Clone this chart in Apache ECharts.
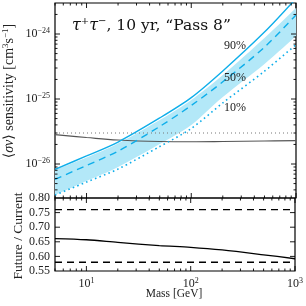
<!DOCTYPE html>
<html><head><meta charset="utf-8">
<script src="https://cdn.jsdelivr.net/npm/echarts@6/dist/echarts.min.js"></script>
<style>html,body{margin:0;padding:0;background:#fff}#c{width:306px;height:306px}</style>
</head><body><div id="c"></div><script>
// ---- data ----
const mass = [5, 10, 20, 50, 100, 200, 500, 1000];
const sens90 = [8.30e-27, 1.33e-26, 2.18e-26, 5.11e-26, 1.05e-25, 2.70e-25, 1.07e-24, 3.52e-24];
const sens50 = [5.82e-27, 9.5e-27, 1.58e-26, 3.78e-26, 7.94e-26, 1.84e-25, 6.27e-25, 1.96e-24];
const sens10 = [3.33e-27, 5.28e-27, 8.38e-27, 1.86e-26, 3.52e-26, 8.71e-26, 2.68e-25, 6.87e-25];
const bandUpper = [8.09e-27, 1.26e-26, 2.07e-26, 4.75e-26, 9.66e-26, 2.34e-25, 8.69e-25, 2.51e-24];
const bandLower = [3.33e-27, 5.48e-27, 9.0e-27, 2.03e-26, 3.98e-26, 1.07e-25, 3.46e-25, 9.31e-25];
const current = [2.84e-26, 2.56e-26, 2.34e-26, 2.22e-26, 2.20e-26, 2.22e-26, 2.26e-26, 2.29e-26];
const thermal = [3e-26, 3e-26];
const thermalMass = [5, 1000];
const ratio = [0.661, 0.657, 0.648, 0.637, 0.631, 0.622, 0.6055, 0.592];
const ratioUpper = [0.76, 0.76];
const ratioLower = [0.58, 0.58];
const xMajorTicks = [10, 100, 1000];
const xMinorTicks = [5, 6, 7, 8, 9, 20, 30, 40, 50, 60, 70, 80, 90, 200, 300, 400, 500, 600, 700, 800, 900];
const yMajorTicks = [1e-26, 1e-25, 1e-24];
const yMinorTicks = [4e-27, 5e-27, 6e-27, 7e-27, 8e-27, 9e-27, 2e-26, 3e-26, 4e-26, 5e-26, 6e-26, 7e-26, 8e-26, 9e-26,
  2e-25, 3e-25, 4e-25, 5e-25, 6e-25, 7e-25, 8e-25, 9e-25, 2e-24];
const ratioTicks = [0.60, 0.65, 0.70, 0.75];
const pctLabels = ['90%', '50%', '10%'];

// ---- styling ----
const FONT = '"Liberation Serif", "DejaVu Serif", serif';
const BLUE = '#0eaeea';
const BAND = '#b3e8f8';

const pairs = (xs, ys) => xs.map((x, i) => [x, ys[i]]);

function tickItems(xMaj, xMin, yMaj, yMin, xRef, yRef) {
  const out = [];
  xMaj.forEach(v => out.push([v, yRef, 0]));
  xMin.forEach(v => out.push([v, yRef, 1]));
  yMaj.forEach(v => out.push([xRef, v, 2]));
  yMin.forEach(v => out.push([xRef, v, 3]));
  return out;
}
function renderTicks(params, api) {
  const cs = params.coordSys;
  const kind = api.value(2);
  const p = api.coord([api.value(0), api.value(1)]);
  const len = (kind % 2 === 0) ? 5 : 2.5;
  const st = { stroke: '#000', lineWidth: 0.9 };
  if (kind < 2) {
    const b = cs.y + cs.height, t = cs.y;
    return { type: 'group', children: [
      { type: 'line', shape: { x1: p[0], y1: b, x2: p[0], y2: b - len }, style: st },
      { type: 'line', shape: { x1: p[0], y1: t, x2: p[0], y2: t + len }, style: st }
    ] };
  }
  const l = cs.x, r = cs.x + cs.width;
  return { type: 'group', children: [
    { type: 'line', shape: { x1: l, y1: p[1], x2: l + len, y2: p[1] }, style: st },
    { type: 'line', shape: { x1: r, y1: p[1], x2: r - len, y2: p[1] }, style: st }
  ] };
}
// Catmull-Rom path through pixel points (continuing an open path)
function crSegments(pts) {
  let d = '';
  for (let i = 0; i < pts.length - 1; i++) {
    const p0 = pts[Math.max(i - 1, 0)], p1 = pts[i], p2 = pts[i + 1], p3 = pts[Math.min(i + 2, pts.length - 1)];
    const c1 = [p1[0] + (p2[0] - p0[0]) / 6, p1[1] + (p2[1] - p0[1]) / 6];
    const c2 = [p2[0] - (p3[0] - p1[0]) / 6, p2[1] - (p3[1] - p1[1]) / 6];
    d += ' C' + c1[0] + ' ' + c1[1] + ' ' + c2[0] + ' ' + c2[1] + ' ' + p2[0] + ' ' + p2[1];
  }
  return d;
}
function renderBand(params, api) {
  const up = mass.map((m, i) => api.coord([m, bandUpper[i]]));
  const lo = mass.map((m, i) => api.coord([m, bandLower[i]])).reverse();
  const d = 'M' + up[0][0] + ' ' + up[0][1] + crSegments(up) +
            ' L' + lo[0][0] + ' ' + lo[0][1] + crSegments(lo) + ' Z';
  const cs = params.coordSys;
  return { type: 'path', shape: { pathData: d }, style: { fill: BAND, stroke: null },
    clipPath: { type: 'rect', shape: { x: cs.x, y: cs.y, width: cs.width, height: cs.height } } };
}
function isPow10(v) {
  const e = Math.log10(v);
  return Math.abs(e - Math.round(e)) < 1e-6 ? Math.round(e) : null;
}
const supRich = {
  b: { fontFamily: FONT, fontSize: 12, color: '#222' },
  s: { fontFamily: FONT, fontSize: 8, color: '#222', verticalAlign: 'top', padding: [0, 0, 6, 0] }
};

const chart = echarts.init(document.getElementById('c'), null, { renderer: 'canvas' });
chart.setOption({
  animation: false,
  backgroundColor: '#fff',
  grid: [
    { left: 55, top: 3, width: 241, height: 195, show: true, borderColor: '#000', borderWidth: 1.2, backgroundColor: 'transparent' },
    { left: 55, top: 198, width: 241, height: 73, show: true, borderColor: '#000', borderWidth: 1.2, backgroundColor: 'transparent' }
  ],
  xAxis: [
    { type: 'log', gridIndex: 0, min: 5, max: 1000, axisLine: { show: false }, axisTick: { show: false },
      axisLabel: { show: false }, splitLine: { show: false } },
    { type: 'log', gridIndex: 1, min: 5, max: 1000, axisLine: { show: false }, axisTick: { show: false },
      splitLine: { show: false },
      axisLabel: { show: true, margin: 6, showMinLabel: false, rich: supRich,
        formatter: v => { const e = isPow10(v); return e === null ? '' : '{b|10}{s|' + e + '}'; } } }
  ],
  yAxis: [
    { type: 'log', gridIndex: 0, min: 3e-27, max: 3e-24, axisLine: { show: false }, axisTick: { show: false },
      splitLine: { show: false },
      axisLabel: { show: true, margin: 5, rich: supRich, showMinLabel: false, showMaxLabel: false,
        formatter: v => { const e = isPow10(v); return e === null ? '' : '{b|10}{s|' + String(e).replace('-', '−') + '}'; } } },
    { type: 'value', gridIndex: 1, min: 0.55, max: 0.80, interval: 0.05, axisLine: { show: false },
      axisTick: { show: false }, splitLine: { show: false },
      axisLabel: { show: true, margin: 5, fontFamily: FONT, fontSize: 12, color: '#222', formatter: v => v.toFixed(2) } }
  ],
  series: [
    { name: 'band', type: 'custom', xAxisIndex: 0, yAxisIndex: 0, renderItem: renderBand, data: [[mass[0], bandLower[0]]],
      z: 1, silent: true },
    { name: 'thermal', type: 'line', xAxisIndex: 0, yAxisIndex: 0, data: pairs(thermalMass, thermal), symbol: 'none',
      lineStyle: { color: '#777', width: 1, type: [1, 3] }, z: 3 },
    { name: 'current', type: 'line', xAxisIndex: 0, yAxisIndex: 0, data: pairs(mass, current), symbol: 'none', smooth: 0.4,
      lineStyle: { color: '#555', width: 1.2 }, z: 3 },
    { name: '90%', type: 'line', xAxisIndex: 0, yAxisIndex: 0, data: pairs(mass, sens90), symbol: 'none', smooth: 0.3,
      lineStyle: { color: BLUE, width: 1.4 }, z: 4 },
    { name: '50%', type: 'line', xAxisIndex: 0, yAxisIndex: 0, data: pairs(mass, sens50), symbol: 'none', smooth: 0.3,
      lineStyle: { color: BLUE, width: 1.4, type: [7, 5] }, z: 4 },
    { name: '10%', type: 'line', xAxisIndex: 0, yAxisIndex: 0, data: pairs(mass, sens10), symbol: 'none', smooth: 0.3,
      lineStyle: { color: BLUE, width: 1.6, type: [1.6, 3.2] }, z: 4 },
    { name: 'ratio', type: 'line', xAxisIndex: 1, yAxisIndex: 1, data: pairs(mass, ratio), symbol: 'none', smooth: 0.3,
      lineStyle: { color: '#000', width: 1.3 }, z: 4 },
    { name: 'ratioUp', type: 'line', xAxisIndex: 1, yAxisIndex: 1, data: pairs(thermalMass, ratioUpper), symbol: 'none',
      lineStyle: { color: '#000', width: 1.3, type: [7, 5] }, z: 4 },
    { name: 'ratioLow', type: 'line', xAxisIndex: 1, yAxisIndex: 1, data: pairs(thermalMass, ratioLower), symbol: 'none',
      lineStyle: { color: '#000', width: 1.3, type: [7, 5] }, z: 4 },
    { name: 'ticksTop', type: 'custom', xAxisIndex: 0, yAxisIndex: 0, renderItem: renderTicks, z: 5, silent: true,
      data: tickItems(xMajorTicks, xMinorTicks, yMajorTicks, yMinorTicks, 10, 1e-26) },
    { name: 'ticksBottom', type: 'custom', xAxisIndex: 1, yAxisIndex: 1, renderItem: renderTicks, z: 5, silent: true,
      data: tickItems(xMajorTicks, xMinorTicks, ratioTicks, [], 10, 0.65) }
  ],
  graphic: [
    { type: 'text', x: 72, y: 26, z: 10, style: {
      text: '{i|τ}{s|+}{i|τ}{s|−}{n|, 10 yr, “Pass 8”}', verticalAlign: 'middle', align: 'left',
      rich: { i: { fontFamily: '"DejaVu Serif", serif', fontSize: 16, fontStyle: 'italic', fill: '#111' },
              n: { fontFamily: '"DejaVu Serif", serif', fontSize: 15.5, fill: '#111' },
              s: { fontFamily: '"DejaVu Serif", serif', fontSize: 10, fill: '#111', verticalAlign: 'top', padding: [0, 0, 9, 0] } } } },
    { type: 'text', x: 235, y: 46, z: 10, style: { text: pctLabels[0], font: '12px ' + FONT, fill: '#222', align: 'center', verticalAlign: 'middle' } },
    { type: 'text', x: 235, y: 78, z: 10, style: { text: pctLabels[1], font: '12px ' + FONT, fill: '#222', align: 'center', verticalAlign: 'middle' } },
    { type: 'text', x: 235, y: 108, z: 10, style: { text: pctLabels[2], font: '12px ' + FONT, fill: '#222', align: 'center', verticalAlign: 'middle' } },
    { type: 'text', x: 9, y: 91, rotation: Math.PI / 2, z: 10, style: {
      text: '{n|⟨}{i|σv}{n|⟩ sensitivity [cm}{s|3}{n|s}{s|−1}{n|]}', align: 'center', verticalAlign: 'middle',
      rich: { n: { fontFamily: FONT, fontSize: 14, fill: '#222' },
              i: { fontFamily: FONT, fontSize: 14, fontStyle: 'italic', fill: '#222' },
              s: { fontFamily: FONT, fontSize: 9, fill: '#222', verticalAlign: 'top', padding: [0, 0, 7, 0] } } } },
    { type: 'text', x: 18, y: 236, rotation: Math.PI / 2, z: 10, style: {
      text: 'Future / Current', font: '13.5px ' + FONT, fill: '#222', align: 'center', verticalAlign: 'middle' } },
    { type: 'text', x: 174, y: 294, z: 10, style: {
      text: 'Mass [GeV]', font: '11.5px ' + FONT, fill: '#222', align: 'center', verticalAlign: 'middle' } }
  ]
});
</script></body></html>
